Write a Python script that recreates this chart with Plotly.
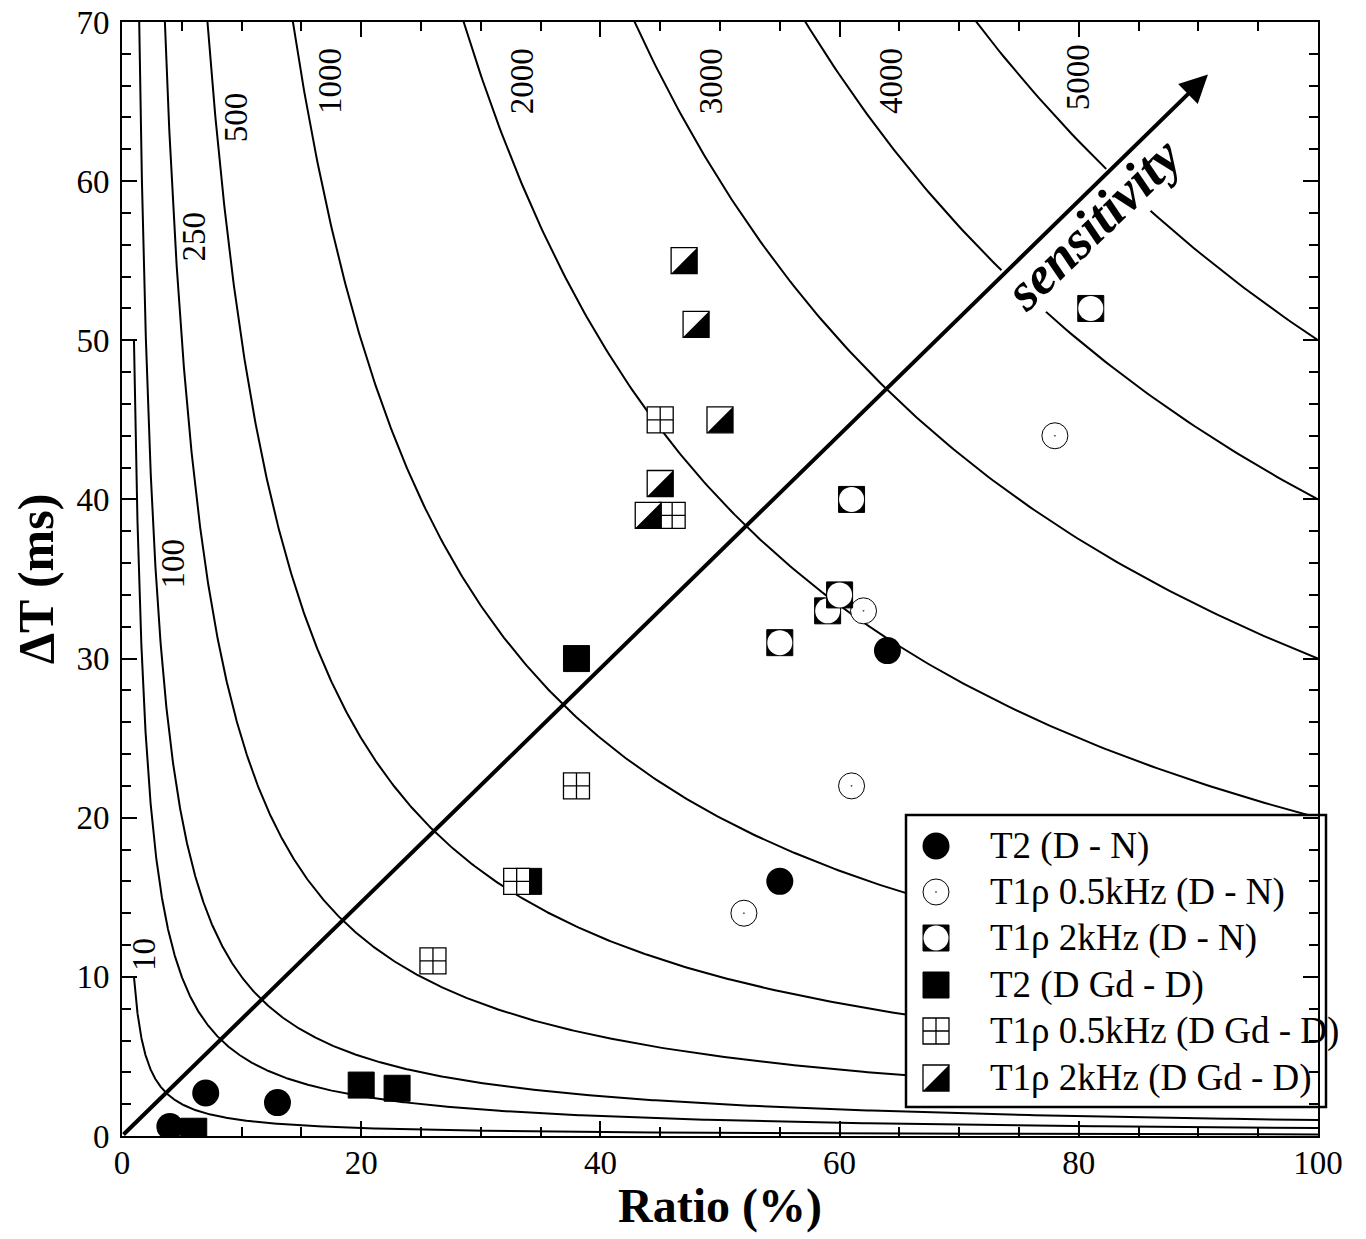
import numpy as np
import plotly.graph_objects as go

# ---------------- data ----------------
levels = [10, 50, 100, 250, 500, 1000, 2000, 3000, 4000, 5000]
level_labels = ["10", "100", "250", "500", "1000", "2000", "3000", "4000", "5000"]
label_x = [1.8, 4.3, 6.0, 9.6, 17.4, 33.4, 49.2, 64.3, 79.9]
label_y = [11.4, 36.0, 56.5, 64.0, 66.3, 66.3, 66.3, 66.3, 66.5]

t2_dn_x = [4, 7, 13, 55, 64]
t2_dn_y = [0.6, 2.7, 2.1, 16, 30.5]
t1r05_dn_x = [52, 61, 62, 78]
t1r05_dn_y = [14, 22, 33, 44]
t1r2_dn_x = [55, 59, 60, 61, 81]
t1r2_dn_y = [31, 33, 34, 40, 52]
t2_dgd_x = [6, 20, 23, 34, 38]
t2_dgd_y = [0.3, 3.2, 3.0, 16, 30]
t1r05_dgd_x = [26, 33, 38, 45, 46]
t1r05_dgd_y = [11, 16, 22, 45, 39]
t1r2_dgd_x = [44, 45, 47, 48, 50]
t1r2_dgd_y = [39, 41, 55, 51, 45]

legend_names = ["T2 (D - N)", "T1ρ 0.5kHz (D - N)", "T1ρ 2kHz (D - N)",
                "T2 (D Gd - D)", "T1ρ 0.5kHz (D Gd - D)", "T1ρ 2kHz (D Gd - D)"]

arrow_end = (90.8, 66.7)
sens_pos = (81.2, 57.3)

# ---------------- geometry helpers ----------------
OFF = 8                      # page body margin
W, H = 1366 - OFF, 1239 - OFF
PLOT_L, PLOT_R, PLOT_T, PLOT_B = 122, 1318, 22, 1136   # screen pixels
L, T = PLOT_L - OFF, PLOT_T - OFF
R, B = W - (PLOT_R - OFF), H - (PLOT_B - OFF)
PW, PH = PLOT_R - PLOT_L, PLOT_B - PLOT_T


def px2paper_x(px):
    return (px - PLOT_L) / PW


def px2paper_y(py):
    return (PLOT_B - py) / PH


SERIF = "Liberation Serif"
MS = 26
HALF = 13

fig = go.Figure()

# iso-lines Ratio x dT = const
ratio = np.geomspace(1, 100, 800)
for k in levels:
    fig.add_trace(go.Scatter(x=ratio, y=k / ratio, mode="lines",
                             line=dict(color="black", width=2),
                             hoverinfo="skip", showlegend=False))

# data series
fig.add_trace(go.Scatter(x=t2_dn_x, y=t2_dn_y, mode="markers",
                         marker=dict(symbol="circle", size=MS + 1, color="black"),
                         showlegend=False))
fig.add_trace(go.Scatter(x=t1r05_dn_x, y=t1r05_dn_y, mode="markers",
                         marker=dict(symbol="circle-dot", size=MS, color="white",
                                     line=dict(color="black", width=1)),
                         showlegend=False))
for xv, yv in zip(t1r2_dn_x, t1r2_dn_y):
    fig.add_trace(go.Scatter(x=[xv], y=[yv], mode="markers",
                             marker=dict(symbol="square", size=MS, color="black",
                                         line=dict(color="black", width=1)),
                             showlegend=False))
    fig.add_trace(go.Scatter(x=[xv], y=[yv], mode="markers",
                             marker=dict(symbol="circle", size=MS - 1, color="white",
                                         line=dict(width=0)),
                             showlegend=False))
fig.add_trace(go.Scatter(x=t2_dgd_x, y=t2_dgd_y, mode="markers",
                         marker=dict(symbol="square", size=MS, color="black",
                                     line=dict(color="black", width=1)),
                         showlegend=False))
fig.add_trace(go.Scatter(x=t1r05_dgd_x, y=t1r05_dgd_y, mode="markers",
                         marker=dict(symbol="square-cross", size=MS, color="white",
                                     line=dict(color="black", width=1.3)),
                         showlegend=False))
fig.add_trace(go.Scatter(x=t1r2_dgd_x, y=t1r2_dgd_y, mode="markers",
                         marker=dict(symbol="square", size=MS, color="white",
                                     line=dict(color="black", width=1.3)),
                         showlegend=False))

tri_path = f"M{-HALF},{-HALF} L{HALF},{-HALF} L{HALF},{HALF} Z"
shapes = []
for xv, yv in zip(t1r2_dgd_x, t1r2_dgd_y):
    shapes.append(dict(type="path", xref="x", yref="y", xsizemode="pixel",
                       ysizemode="pixel", xanchor=xv, yanchor=yv, path=tri_path,
                       fillcolor="black", line=dict(width=0), layer="above"))

# ---------------- manual legend ----------------
box_x0, box_x1 = px2paper_x(906), px2paper_x(1326)
box_y0, box_y1 = px2paper_y(1107), px2paper_y(815)
fig.add_trace(go.Scatter(x=[box_x0, 1.0, 1.0, box_x0, box_x0],
                         y=[box_y0, box_y0, box_y1, box_y1, box_y0],
                         xaxis="x2", yaxis="y2", mode="lines", fill="toself",
                         fillcolor="white", line=dict(width=0),
                         hoverinfo="skip", showlegend=False))
shapes.append(dict(type="rect", xref="paper", yref="paper", x0=box_x0, x1=box_x1,
                   y0=box_y0, y1=box_y1, line=dict(color="black", width=2.5),
                   layer="above"))

row_py = [846, 892, 938, 985, 1031, 1078]
lx = px2paper_x(936)
ly = [px2paper_y(p) for p in row_py]
leg_markers = [
    [dict(symbol="circle", size=MS + 1, color="black")],
    [dict(symbol="circle-dot", size=MS, color="white", line=dict(color="black", width=1))],
    [dict(symbol="square", size=MS, color="black", line=dict(color="black", width=1)),
     dict(symbol="circle", size=MS - 1, color="white", line=dict(width=0))],
    [dict(symbol="square", size=MS, color="black", line=dict(color="black", width=1))],
    [dict(symbol="square-cross", size=MS, color="white", line=dict(color="black", width=1.3))],
    [dict(symbol="square", size=MS, color="white", line=dict(color="black", width=1.3))],
]
for yv, mlist in zip(ly, leg_markers):
    for m in mlist:
        fig.add_trace(go.Scatter(x=[lx], y=[yv], xaxis="x2", yaxis="y2", mode="markers",
                                 marker=m, cliponaxis=False, hoverinfo="skip",
                                 showlegend=False))
shapes.append(dict(type="path", xref="x2", yref="y2", xsizemode="pixel",
                   ysizemode="pixel", xanchor=lx, yanchor=ly[5], path=tri_path,
                   fillcolor="black", line=dict(width=0), layer="above"))

annotations = []
for name, yv in zip(legend_names, ly):
    annotations.append(dict(x=px2paper_x(988), y=yv, xref="paper", yref="paper",
                            text=name, showarrow=False, xanchor="left",
                            yanchor="middle",
                            font=dict(family=SERIF, size=37, color="black")))

# iso-line labels
for txt, xv, yv in zip(level_labels, label_x, label_y):
    annotations.append(dict(x=xv, y=yv, xref="x", yref="y", text=txt,
                            showarrow=False, textangle=-90,
                            font=dict(family=SERIF, size=33, color="black")))

# sensitivity text + arrow
annotations.append(dict(x=sens_pos[0], y=sens_pos[1], xref="x", yref="y",
                        text="sensitivity", showarrow=False, textangle=-44,
                        bgcolor="white", borderpad=0,
                        font=dict(family=SERIF, size=54, color="black",
                                  weight="bold", style="italic")))
annotations.append(dict(x=arrow_end[0], y=arrow_end[1], xref="x", yref="y",
                        ax=0, ay=0, axref="x", ayref="y", text="",
                        showarrow=True, arrowhead=2, arrowsize=1.4,
                        arrowwidth=4, arrowcolor="black", standoff=0))

axis_common = dict(showline=True, linecolor="black", linewidth=2, mirror="ticks",
                   ticks="inside", ticklen=15, tickwidth=2, tickcolor="black",
                   showgrid=False, zeroline=False, automargin=False,
                   ticklabeloverflow="allow",
                   tickfont=dict(family=SERIF, size=33, color="black"))

fig.update_layout(
    width=W, height=H,
    margin=dict(l=L, r=R, t=T, b=B, autoexpand=False),
    paper_bgcolor="white", plot_bgcolor="white",
    showlegend=False,
    xaxis=dict(range=[0, 100], dtick=20, tick0=0,
               minor=dict(dtick=5, ticklen=9, tickwidth=2, ticks="inside",
                          tickcolor="black", showgrid=False),
               ticklabelstandoff=-4,
               title=dict(text="Ratio (%)", standoff=9,
                          font=dict(family=SERIF, size=48, color="black",
                                    weight="bold")),
               **axis_common),
    yaxis=dict(range=[0, 70], dtick=10, tick0=0,
               minor=dict(dtick=2, ticklen=9, tickwidth=2, ticks="inside",
                          tickcolor="black", showgrid=False),
               ticklabelstandoff=4,
               title=dict(text="ΔT (ms)", standoff=24,
                          font=dict(family=SERIF, size=50, color="black",
                                    weight="bold")),
               **axis_common),
    xaxis2=dict(overlaying="x", range=[0, 1], visible=False, anchor="y2"),
    yaxis2=dict(overlaying="y", range=[0, 1], visible=False, anchor="x2"),
    shapes=shapes,
    annotations=annotations,
)

fig.write_html("out.html")
